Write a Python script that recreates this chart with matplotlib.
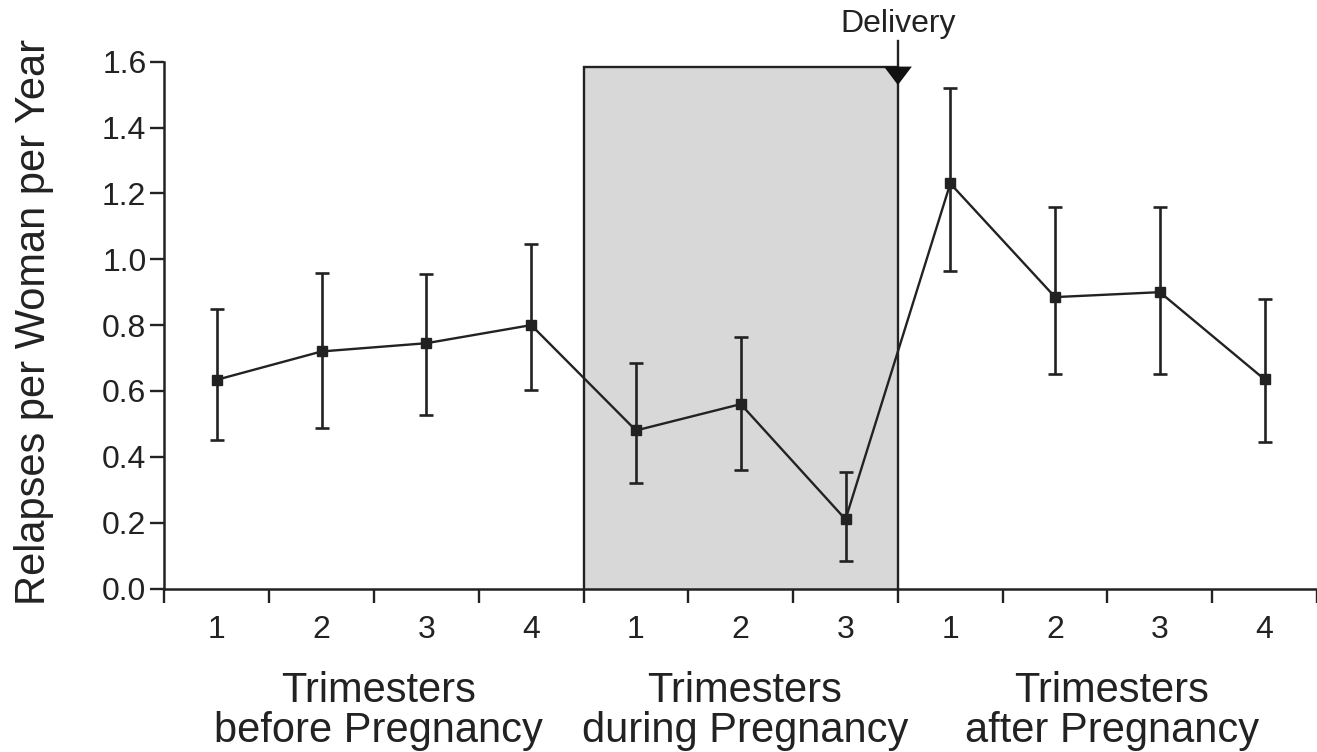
import numpy as np
import matplotlib
matplotlib.use("Agg")
import matplotlib.pyplot as plt
from matplotlib.patches import Rectangle, Polygon

plt.rcParams['font.family'] = ['Liberation Sans', 'DejaVu Sans']

# relapse rate per trimester (mean, upper and lower end of the error bar)
periods = ["before", "during", "after"]
trimesters = [["1", "2", "3", "4"], ["1", "2", "3"], ["1", "2", "3", "4"]]
rate = [0.634, 0.72, 0.745, 0.80, 0.48, 0.56, 0.21, 1.23, 0.885, 0.90, 0.635]
upper = [0.85, 0.958, 0.956, 1.047, 0.685, 0.765, 0.355, 1.52, 1.16, 1.16, 0.88]
lower = [0.452, 0.487, 0.527, 0.603, 0.32, 0.36, 0.085, 0.965, 0.65, 0.65, 0.445]
group_names = ["Trimesters\nbefore Pregnancy", "Trimesters\nduring Pregnancy",
               "Trimesters\nafter Pregnancy"]

labels = [t for grp in trimesters for t in grp]
x = np.arange(len(labels))
rate = np.array(rate)
yerr = [rate - np.array(lower), np.array(upper) - rate]

ink = '#222222'
fig = plt.figure(figsize=(13.17, 7.52), dpi=100)
ax = fig.add_axes([0.1249, 0.2174, 0.8751, 0.7006])

n_before = len(trimesters[0])
n_during = len(trimesters[1])
preg_start = n_before - 0.5
delivery = n_before + n_during - 0.5
shade_top = 1.585

# pregnancy period shading
ax.add_patch(Rectangle((preg_start, 0), delivery - preg_start, shade_top,
                       facecolor='#d8d8d8', edgecolor='none', zorder=0))
ax.plot([preg_start, preg_start, delivery], [0, shade_top, shade_top],
        color=ink, lw=1.7, zorder=1, solid_joinstyle='miter')
ax.plot([delivery, delivery], [0, 1.662], color=ink, lw=1.7,
        clip_on=False, zorder=1)
ax.add_patch(Polygon([[delivery - 0.133, shade_top], [delivery + 0.133, shade_top],
                      [delivery, shade_top - 0.056]], closed=True,
                     facecolor='#111111', edgecolor='none', clip_on=False, zorder=3))
ax.text(delivery, 1.69, "Delivery", ha='center', va='baseline', fontsize=23,
        color=ink, clip_on=False)

ax.errorbar(x, rate, yerr=yerr, fmt='s-', color=ink, ms=7.5, lw=1.7,
            elinewidth=1.9, capsize=5, capthick=1.9, zorder=4, clip_on=False)

ax.set_xlim(-0.5, -0.5 + (1317 - 164.5) / 106.0)
ax.set_ylim(0, 1.6)
ax.set_yticks(np.arange(0, 1.61, 0.2))
ax.set_yticklabels([f"{v:.1f}" for v in np.arange(0, 1.61, 0.2)])

ax.set_xticks(np.arange(-0.5, len(labels) + 0.5, 1.0))
ax.set_xticklabels([])
ax.set_xticks(x, minor=True)
ax.set_xticklabels(labels, minor=True)
ax.tick_params(axis='x', which='major', direction='out', length=10, width=1.7,
               color=ink)
ax.tick_params(axis='x', which='minor', length=0, pad=19, labelsize=23,
               labelcolor=ink)
ax.tick_params(axis='y', direction='out', length=10, width=1.7, pad=3,
               labelsize=23, color=ink, labelcolor=ink)

for side in ['top', 'right']:
    ax.spines[side].set_visible(False)
for side in ['left', 'bottom']:
    ax.spines[side].set_linewidth(1.8)
    ax.spines[side].set_color(ink)

fig.text(0.011, 1 - 322 / 752, "Relapses per Woman per Year", rotation=90,
         ha='left', va='center', fontsize=30, color=ink)

# group captions under the trimester numbers
starts = np.cumsum([0] + [len(g) for g in trimesters])
for i, name in enumerate(group_names):
    center = (starts[i] + starts[i + 1] - 1) / 2
    top, bottom = name.split("\n")
    for line, base in [(top, 702), (bottom, 742)]:
        ax.annotate(line, xy=(center, 0), xycoords=('data', 'figure fraction'),
                    xytext=(3, 1 - base / 752),
                    textcoords=('offset points', 'figure fraction'),
                    ha='center', va='baseline', fontsize=30, color=ink)

fig.savefig("out.png", dpi=100, facecolor='white')
